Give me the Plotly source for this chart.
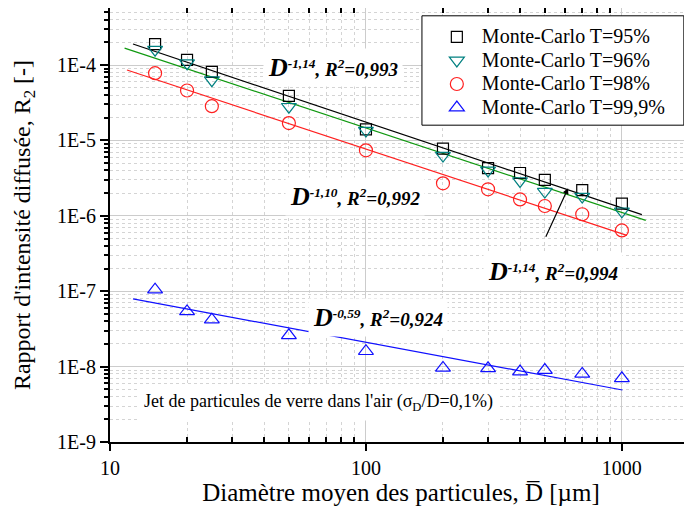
import plotly.graph_objects as go

# ---- data ----
diam = [15, 20, 25, 50, 100, 200, 300, 400, 500, 700, 1000]
r2_t95 = [1.9e-4, 1.17e-4, 8.1e-5, 3.9e-5, 1.4e-5, 7.8e-6, 4.3e-6, 3.7e-6, 3.0e-6, 2.2e-6, 1.45e-6]
r2_t96 = [1.6e-4, 1.06e-4, 6.3e-5, 2.8e-5, 1.35e-5, 6.3e-6, 4.0e-6, 2.9e-6, 2.1e-6, 1.8e-6, 1.15e-6]
r2_t98 = [7.8e-5, 4.6e-5, 2.85e-5, 1.7e-5, 7.4e-6, 2.7e-6, 2.25e-6, 1.65e-6, 1.35e-6, 1.05e-6, 6.4e-7]
r2_t999 = [1.05e-7, 5.4e-8, 4.2e-8, 2.6e-8, 1.6e-8, 9.6e-9, 9.5e-9, 8.6e-9, 9.0e-9, 8.0e-9, 7.0e-9]

# power-law fit lines (end points)
fit_x_95 = [12.3, 1197]
fit_y_95 = [1.9e-4, 1.04e-6]
fit_x_96 = [11.4, 1240]
fit_y_96 = [1.68e-4, 8.7e-7]
fit_x_98 = [11.65, 1046]
fit_y_98 = [8.6e-5, 5.5e-7]
fit_x_999 = [12.3, 1005]
fit_y_999 = [7.9e-8, 4.9e-9]

series_names = ["Monte-Carlo T=95%", "Monte-Carlo T=96%", "Monte-Carlo T=98%", "Monte-Carlo T=99,9%"]

y_tickvals = [1e-9, 1e-8, 1e-7, 1e-6, 1e-5, 1e-4]
y_ticktext = ["1E-9", "1E-8", "1E-7", "1E-6", "1E-5", "1E-4"]
x_tickvals = [10, 100, 1000]
x_ticktext = ["10", "100", "1000"]
x_minor_vals = [k * d for d in (10, 100, 1000) for k in range(2, 10)]
y_minor_vals = [k * 10.0 ** e for e in range(-9, -3) for k in range(2, 10)]

FONT = "Liberation Serif"

fig = go.Figure()

# fit lines
for fx, fy, col in [(fit_x_95, fit_y_95, "black"), (fit_x_96, fit_y_96, "#109910"),
                    (fit_x_98, fit_y_98, "#ff2020"), (fit_x_999, fit_y_999, "#1010ff")]:
    fig.add_trace(go.Scatter(x=fx, y=fy, mode="lines", line=dict(color=col, width=1.2),
                             showlegend=False, hoverinfo="skip"))

# markers
marker_specs = [
    (r2_t95, "square-open", "black", 11),
    (r2_t96, "triangle-down-open", "#008080", 13),
    (r2_t98, "circle-open", "#ff2020", 13),
    (r2_t999, "triangle-up-open", "#1010ff", 13),
]
for (vals, sym, col, sz), name in zip(marker_specs, series_names):
    fig.add_trace(go.Scatter(x=diam, y=vals, mode="markers",
                             name="<span style='font-size:20px'>%s</span>" % name,
                             marker=dict(symbol=sym, color=col, size=sz, line=dict(width=1.2, color=col))))

def eq(exp, r2):
    return ("<b><i><span style='font-size:26px'>D</span><sup>%s</sup>, R<sup>2</sup>=%s</i></b>" % (exp, r2))

ann_font = dict(family=FONT, size=19, color="black")
annotations = [
    dict(x=0.383, y=0.862, text=eq("-1,14", "0,993")),
    dict(x=0.421, y=0.565, text=eq("-1,10", "0,992")),
    dict(x=0.460, y=0.286, text=eq("-0,59", "0,924")),
    dict(x=0.761, y=0.392, text=eq("-1,14", "0,994")),
]
anns = []
for a in annotations:
    anns.append(dict(xref="paper", yref="paper", showarrow=False, font=ann_font,
                     xanchor="center", yanchor="middle",
                     bgcolor="white", borderpad=4, **a))
anns.append(dict(xref="paper", yref="paper", x=0.359, y=0.090, showarrow=False,
                 xanchor="center", yanchor="middle",
                 text="Jet de particules de verre dans l'air (σ<sub>D</sub>/D=0,1%)",
                 font=dict(family=FONT, size=18, color="black"), bgcolor="white", borderpad=6))
# arrow
anns.append(dict(x=2.790, y=-5.633, xref="x", yref="y", text="", showarrow=True,
                 arrowhead=2, arrowsize=1, arrowwidth=1.2, arrowcolor="black", ax=-23, ay=50))

# legend frame
legend_box = dict(type="rect", xref="paper", yref="paper", x0=0.536, x1=0.986, y0=0.730, y1=0.982,
                  fillcolor="white", line=dict(color="black", width=1), layer="above")

# the page body adds an 8px offset, so the figure is 8px smaller than the window
fig.update_layout(
    width=684, height=500,
    margin=dict(l=102, r=0, t=0, b=66, autoexpand=False),
    paper_bgcolor="white", plot_bgcolor="white",
    font=dict(family=FONT, size=20, color="black"),
    annotations=anns,
    shapes=[legend_box],
    legend=dict(x=0.553, y=0.972, xanchor="left", yanchor="top",
                bgcolor="rgba(0,0,0,0)", borderwidth=0,
                font=dict(family=FONT, size=15.8), tracegroupgap=0, itemwidth=40),
)

fig.update_xaxes(
    type="log", range=[1, 3.274], automargin=False,
    tickvals=x_tickvals, ticktext=x_ticktext,
    ticks="outside", ticklen=7, tickwidth=1.5, tickcolor="black",
    showline=True, linecolor="black", linewidth=2, mirror="ticks",
    showgrid=True, gridcolor="#cccccc", gridwidth=1,
    minor=dict(tickmode="array", tickvals=x_minor_vals, ticks="inside", ticklen=5,
               tickcolor="black", showgrid=True,
               gridcolor="#d4d4d4", griddash="dot", gridwidth=1),
    tickfont=dict(family=FONT, size=20),
    title=dict(text="Diamètre moyen des particules, D\u0305 [µm]", font=dict(family=FONT, size=25), standoff=4),
    zeroline=False,
)
fig.update_yaxes(
    type="log", range=[-9, -3.243], automargin=False,
    tickvals=y_tickvals, ticktext=y_ticktext,
    ticks="outside", ticklen=8, tickwidth=1.5, tickcolor="black",
    showline=True, linecolor="black", linewidth=2, mirror="ticks",
    showgrid=True, gridcolor="#cccccc", gridwidth=1,
    minor=dict(tickmode="array", tickvals=y_minor_vals, ticks="outside", ticklen=4,
               tickcolor="black", showgrid=True,
               gridcolor="#d4d4d4", griddash="dot", gridwidth=1),
    tickfont=dict(family=FONT, size=20),
    title=dict(text="Rapport d'intensité diffusée, R<sub>2</sub> [-]", font=dict(family=FONT, size=24), standoff=20),
    zeroline=False,
)

fig.write_html("out.html")
